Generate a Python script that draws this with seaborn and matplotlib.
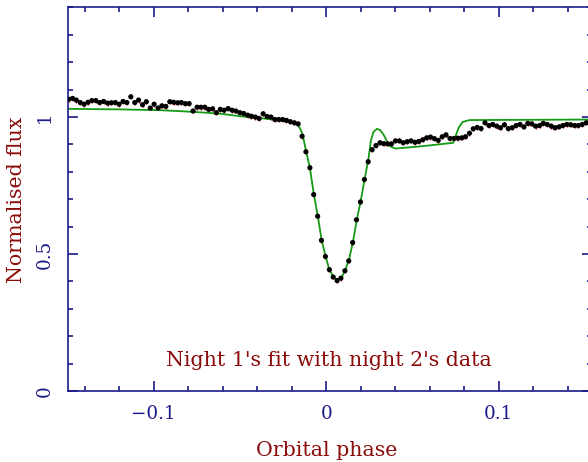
import matplotlib
matplotlib.use("Agg")
import matplotlib.pyplot as plt
import pandas as pd
import seaborn as sns
from matplotlib.ticker import FixedLocator, FixedFormatter, MultipleLocator

# Night 2 photometry: orbital phase, normalised flux and a typical 1-sigma error
phase = [
    -0.1494, -0.1471, -0.1449, -0.1426, -0.1404, -0.1381, -0.1359, -0.1336, -0.1314, -0.1291,
    -0.1268, -0.1246, -0.1223, -0.1201, -0.1178, -0.1156, -0.1133, -0.1110, -0.1088, -0.1065,
    -0.1043, -0.1020, -0.0998, -0.0975, -0.0953, -0.0930, -0.0907, -0.0885, -0.0862, -0.0840,
    -0.0817, -0.0795, -0.0772, -0.0749, -0.0727, -0.0704, -0.0682, -0.0659, -0.0637, -0.0614,
    -0.0592, -0.0569, -0.0546, -0.0524, -0.0501, -0.0479, -0.0456, -0.0434, -0.0411, -0.0389,
    -0.0366, -0.0343, -0.0321, -0.0298, -0.0276, -0.0253, -0.0231, -0.0208, -0.0185, -0.0163,
    -0.0140, -0.0118, -0.0095, -0.0073, -0.0050, -0.0028, -0.0005, 0.0018, 0.0040, 0.0063,
    0.0085, 0.0108, 0.0130, 0.0153, 0.0175, 0.0198, 0.0221, 0.0243, 0.0266, 0.0288,
    0.0311, 0.0333, 0.0356, 0.0378, 0.0401, 0.0424, 0.0446, 0.0469, 0.0491, 0.0514,
    0.0536, 0.0559, 0.0582, 0.0604, 0.0627, 0.0649, 0.0672, 0.0694, 0.0717, 0.0740,
    0.0762, 0.0785, 0.0807, 0.0830, 0.0852, 0.0875, 0.0897, 0.0920, 0.0943, 0.0965,
    0.0988, 0.1010, 0.1033, 0.1055, 0.1078, 0.1101, 0.1123, 0.1146, 0.1168, 0.1191,
    0.1213, 0.1236, 0.1258, 0.1281, 0.1304, 0.1326, 0.1349, 0.1371, 0.1394, 0.1416,
    0.1439, 0.1461, 0.1484, 0.1507,
]
flux = [
    1.065, 1.068, 1.062, 1.053, 1.047, 1.054, 1.060, 1.060, 1.053, 1.057,
    1.051, 1.052, 1.053, 1.047, 1.057, 1.053, 1.074, 1.053, 1.062, 1.045,
    1.056, 1.033, 1.047, 1.033, 1.041, 1.039, 1.056, 1.054, 1.052, 1.053,
    1.049, 1.049, 1.022, 1.036, 1.036, 1.036, 1.028, 1.030, 1.016, 1.028,
    1.025, 1.031, 1.025, 1.022, 1.016, 1.013, 1.007, 1.003, 1.000, 0.995,
    1.012, 1.002, 1.000, 0.991, 0.991, 0.991, 0.988, 0.983, 0.979, 0.975,
    0.930, 0.873, 0.815, 0.717, 0.638, 0.550, 0.491, 0.443, 0.416, 0.403,
    0.412, 0.439, 0.475, 0.542, 0.625, 0.690, 0.772, 0.837, 0.881, 0.896,
    0.906, 0.903, 0.902, 0.902, 0.913, 0.913, 0.906, 0.910, 0.913, 0.908,
    0.911, 0.917, 0.924, 0.927, 0.921, 0.915, 0.928, 0.935, 0.922, 0.922,
    0.923, 0.924, 0.928, 0.941, 0.957, 0.962, 0.958, 0.979, 0.969, 0.973,
    0.967, 0.961, 0.972, 0.958, 0.961, 0.969, 0.973, 0.964, 0.977, 0.975,
    0.967, 0.969, 0.977, 0.973, 0.967, 0.961, 0.964, 0.969, 0.973, 0.972,
    0.969, 0.969, 0.973, 0.979,
]
flux_err = 0.009

# Light-curve model fitted to night 1
model_phase = [
    -0.150, -0.120, -0.096, -0.077, -0.061, -0.050, -0.038, -0.031, -0.024, -0.019,
    -0.0166, -0.0149, -0.0137, -0.0116, -0.0095, -0.0072, -0.0049, -0.0027, -0.0004, 0.0017,
    0.0042, 0.0063, 0.0087, 0.0108, 0.0131, 0.0154, 0.0177, 0.0199, 0.0222, 0.0245,
    0.0259, 0.0274, 0.0294, 0.0313, 0.0332, 0.0352, 0.0371, 0.0400, 0.0547, 0.0736,
    0.0752, 0.0768, 0.0790, 0.0830, 0.156,
]
model_flux = [
    1.030, 1.028, 1.025, 1.019, 1.012, 1.003, 0.996, 0.991, 0.985, 0.978,
    0.972, 0.955, 0.935, 0.873, 0.815, 0.717, 0.638, 0.552, 0.491, 0.445,
    0.416, 0.405, 0.412, 0.439, 0.478, 0.542, 0.625, 0.692, 0.772, 0.850,
    0.915, 0.946, 0.957, 0.952, 0.936, 0.911, 0.893, 0.885, 0.893, 0.906,
    0.935, 0.962, 0.982, 0.989, 0.991,
]

xticks = [-0.1, 0.0, 0.1]
xtick_labels = ["\u22120.1", "0", "0.1"]
yticks = [0.0, 0.5, 1.0]
ytick_labels = ["0", "0.5", "1"]

sns.set_theme(style="ticks")
plt.rcParams["font.family"] = ["DejaVu Serif"]

AXIS = "#1a1a8a"
LABEL = "#8b0a0a"
TICK_FS = 13.2
LABEL_FS = 14.8

fig = plt.figure(figsize=(5.88, 4.62), dpi=100)
ax = fig.add_axes([0.1148, 0.1537, 0.8925, 0.8301])

data = pd.DataFrame({"phase": phase, "flux": flux})
model = pd.DataFrame({"phase": model_phase, "flux": model_flux})

ax.errorbar(data["phase"], data["flux"], yerr=flux_err, fmt="none",
            ecolor="#d01010", elinewidth=1.0, capsize=0, zorder=2)
sns.lineplot(data=model, x="phase", y="flux", ax=ax, color="#159a15",
             lw=1.3, sort=False, estimator=None, zorder=2.5)
sns.scatterplot(data=data, x="phase", y="flux", ax=ax, color="black",
                s=14, edgecolor="none", zorder=3)

ax.set_xlim(-0.15, 0.1542)
ax.set_ylim(0.0, 1.4)

ax.xaxis.set_major_locator(FixedLocator(xticks))
ax.xaxis.set_major_formatter(FixedFormatter(xtick_labels))
ax.xaxis.set_minor_locator(MultipleLocator(0.02))
ax.yaxis.set_major_locator(FixedLocator(yticks))
ax.yaxis.set_major_formatter(FixedFormatter(ytick_labels))
ax.yaxis.set_minor_locator(MultipleLocator(0.1))

ax.tick_params(which="both", direction="in", top=True, right=True,
               color=AXIS, width=1.2)
ax.tick_params(which="major", length=7.2)
ax.tick_params(which="minor", length=3.6)
ax.tick_params(axis="both", which="major", labelcolor=AXIS, labelsize=TICK_FS, pad=10)
for lbl in ax.get_yticklabels():
    lbl.set_rotation(90)
    lbl.set_va("center")

for side in ax.spines.values():
    side.set_color(AXIS)
    side.set_linewidth(1.2)

ax.set_xlabel("Orbital phase", color=LABEL, fontsize=LABEL_FS)
ax.xaxis.label.set_va("baseline")
ax.xaxis.set_label_coords(0.493, -0.1695)
ax.set_ylabel("Normalised flux", color=LABEL, fontsize=LABEL_FS)
ax.yaxis.label.set_va("center")
ax.yaxis.set_label_coords(-0.098, 0.498)

ax.text(0.0016, 0.0925, "Night 1's fit with night 2's data",
        ha="center", va="baseline", color=LABEL, fontsize=LABEL_FS)

fig.savefig("out.png", dpi=100, facecolor="white")
